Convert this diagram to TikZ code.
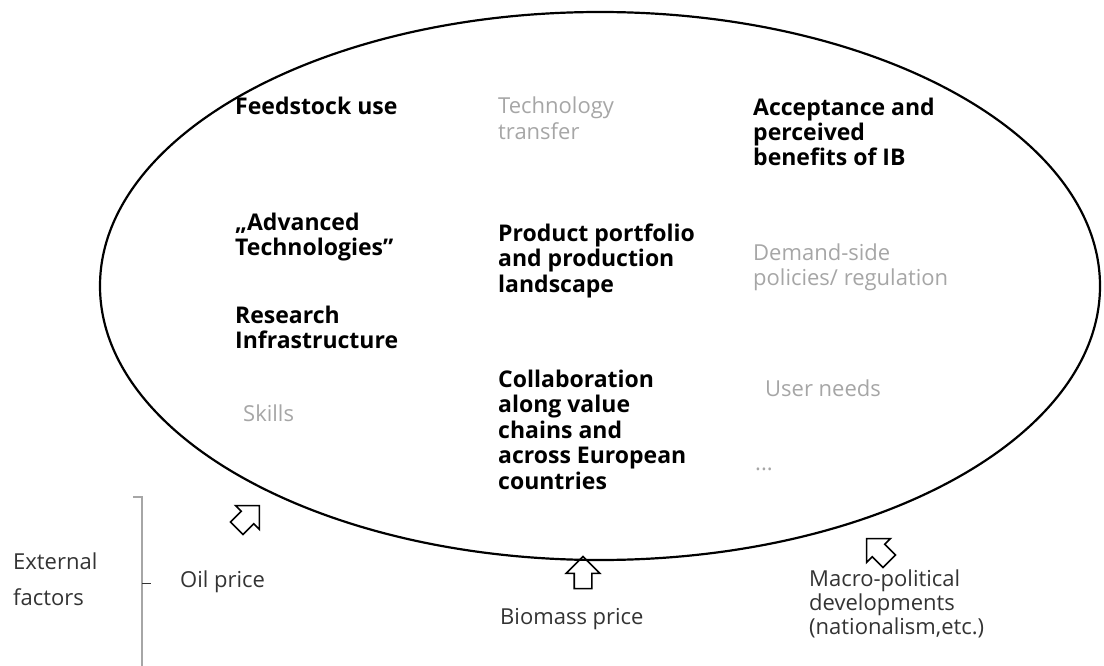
\documentclass[tikz,border=0pt]{standalone}
\usepackage{fontspec}
\setmainfont{Open Sans}
\usetikzlibrary{shapes.arrows}
\definecolor{lightgr}{HTML}{A6A6A6}
\definecolor{darktxt}{HTML}{333333}

\begin{document}
\begin{tikzpicture}[x=1pt,y=-1pt,
    txt/.style={anchor=base west,align=left,inner sep=0pt,font=\fontsize{22}{25.5}\selectfont},
    bld/.style={txt,font=\fontsize{23}{25.5}\selectfont\bfseries},
    gry/.style={txt,text=lightgr},
    outer/.style={txt,text=darktxt},
    blockarr/.style={draw,single arrow,line width=1.6pt,inner xsep=0pt,inner ysep=8pt,
        minimum height=32pt,single arrow head extend=8pt}]
            \useasboundingbox (0,0) rectangle (1104,666);
            % ellipse
            \draw[line width=2.2pt] (600,286) ellipse [x radius=500, y radius=274];
            % inside (base = last line)
            \node[bld] (feed) at (235,115) {Feedstock use};
            \node[gry] (transfer) at (498,139.5) {Technology\\transfer};
            \node[bld] (accept) at (753,166) {Acceptance and\\perceived\\benefits of IB};
            \node[bld] (advanced) at (235,255.5) {„Advanced\\Technologies”};
            \node[bld] (portfolio) at (498,292) {Product portfolio\\and production\\landscape};
            \node[gry] (demand) at (753,285.5) {Demand-side\\policies/ regulation};
            \node[bld] (research) at (235,348.5) {Research\\Infrastructure};
            \node[bld] (collab) at (498,489) {Collaboration\\along value\\chains and\\across European\\countries};
            \node[gry] (user) at (765,396) {User needs};
            \node[gry] (skills) at (243,421) {Skills};
            \node[gry] (dots) at (755,470) {...};
            % external factors
            \draw[lightgr,line width=2pt] (133,497) -- (142,497) -- (142,666);
            \draw[darktxt,line width=1pt] (142,583) -- (151,583);
            \node[outer,font=\fontsize{22}{36}\selectfont] (ext) at (13,605) {External\\factors};
            \node[outer] (oil) at (180,587) {Oil price};
            \node[outer] (biomass) at (500,624) {Biomass price};
            \node[outer,font=\fontsize{22}{24}\selectfont] (macro) at (809,634) {Macro-political\\developments\\(nationalism,etc.)};
            \node[blockarr,rotate=45] (oilarr) at (245,520) {};
            \node[blockarr,rotate=90] (bioarr) at (583,577) {};
            \node[blockarr,rotate=135] (macroarr) at (881,553) {};
\end{tikzpicture}
\end{document}
